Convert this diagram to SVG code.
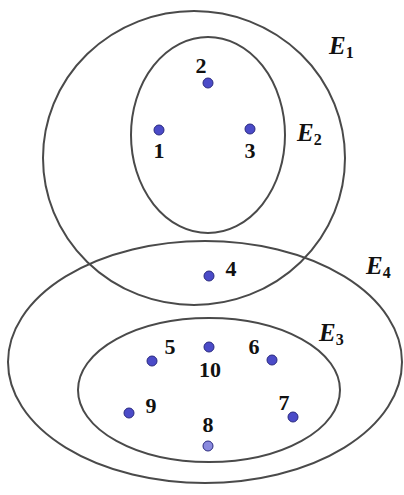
<svg xmlns="http://www.w3.org/2000/svg" width="404" height="495" viewBox="0 0 404 495">
<style>
.set{fill:none;stroke:#4a4a4a;stroke-width:2}
.pt{fill:#4b4bc8;stroke:#2a2a80;stroke-width:1}
.pt8{fill:#8a8ade;stroke:#2a2a80;stroke-width:1}
.num{font-family:"Liberation Serif",serif;font-weight:bold;font-size:22px;fill:#111;text-anchor:middle}
.lab{font-family:"Liberation Serif",serif;font-weight:bold;font-style:italic;font-size:25px;fill:#111}
.sub{font-style:normal;font-size:16px}
</style>
<rect width="404" height="495" fill="#fff"/>
<g id="sets">
<ellipse id="E1" class="set" cx="194" cy="158" rx="151" ry="147"/>
<ellipse id="E2" class="set" cx="208" cy="135" rx="77" ry="98"/>
<ellipse id="E4" class="set" cx="205" cy="362" rx="197" ry="121"/>
<ellipse id="E3" class="set" cx="209" cy="390" rx="131" ry="72"/>
</g>
<g id="set-labels">
<text class="lab" x="329" y="54">E<tspan class="sub" dy="4">1</tspan></text>
<text class="lab" x="297" y="141">E<tspan class="sub" dy="4">2</tspan></text>
<text class="lab" x="319" y="341">E<tspan class="sub" dy="4">3</tspan></text>
<text class="lab" x="366" y="274">E<tspan class="sub" dy="4">4</tspan></text>
</g>
<g id="n1"><circle class="pt" cx="159" cy="130" r="5"/><text class="num" x="159" y="158">1</text></g>
<g id="n2"><circle class="pt" cx="208" cy="83" r="5"/><text class="num" x="201" y="73">2</text></g>
<g id="n3"><circle class="pt" cx="250" cy="129" r="5"/><text class="num" x="250" y="158">3</text></g>
<g id="n4"><circle class="pt" cx="209" cy="276" r="5"/><text class="num" x="231" y="276">4</text></g>
<g id="n5"><circle class="pt" cx="152" cy="361" r="5"/><text class="num" x="170" y="354">5</text></g>
<g id="n6"><circle class="pt" cx="272" cy="360" r="5"/><text class="num" x="254" y="354">6</text></g>
<g id="n7"><circle class="pt" cx="293" cy="417" r="5"/><text class="num" x="284" y="410">7</text></g>
<g id="n8"><circle class="pt8" cx="208" cy="446" r="5"/><text class="num" x="208" y="432">8</text></g>
<g id="n9"><circle class="pt" cx="129" cy="413" r="5"/><text class="num" x="151" y="413">9</text></g>
<g id="n10"><circle class="pt" cx="209" cy="347" r="5"/><text class="num" x="210" y="377">10</text></g>
<g id="connectors"></g>
</svg>
